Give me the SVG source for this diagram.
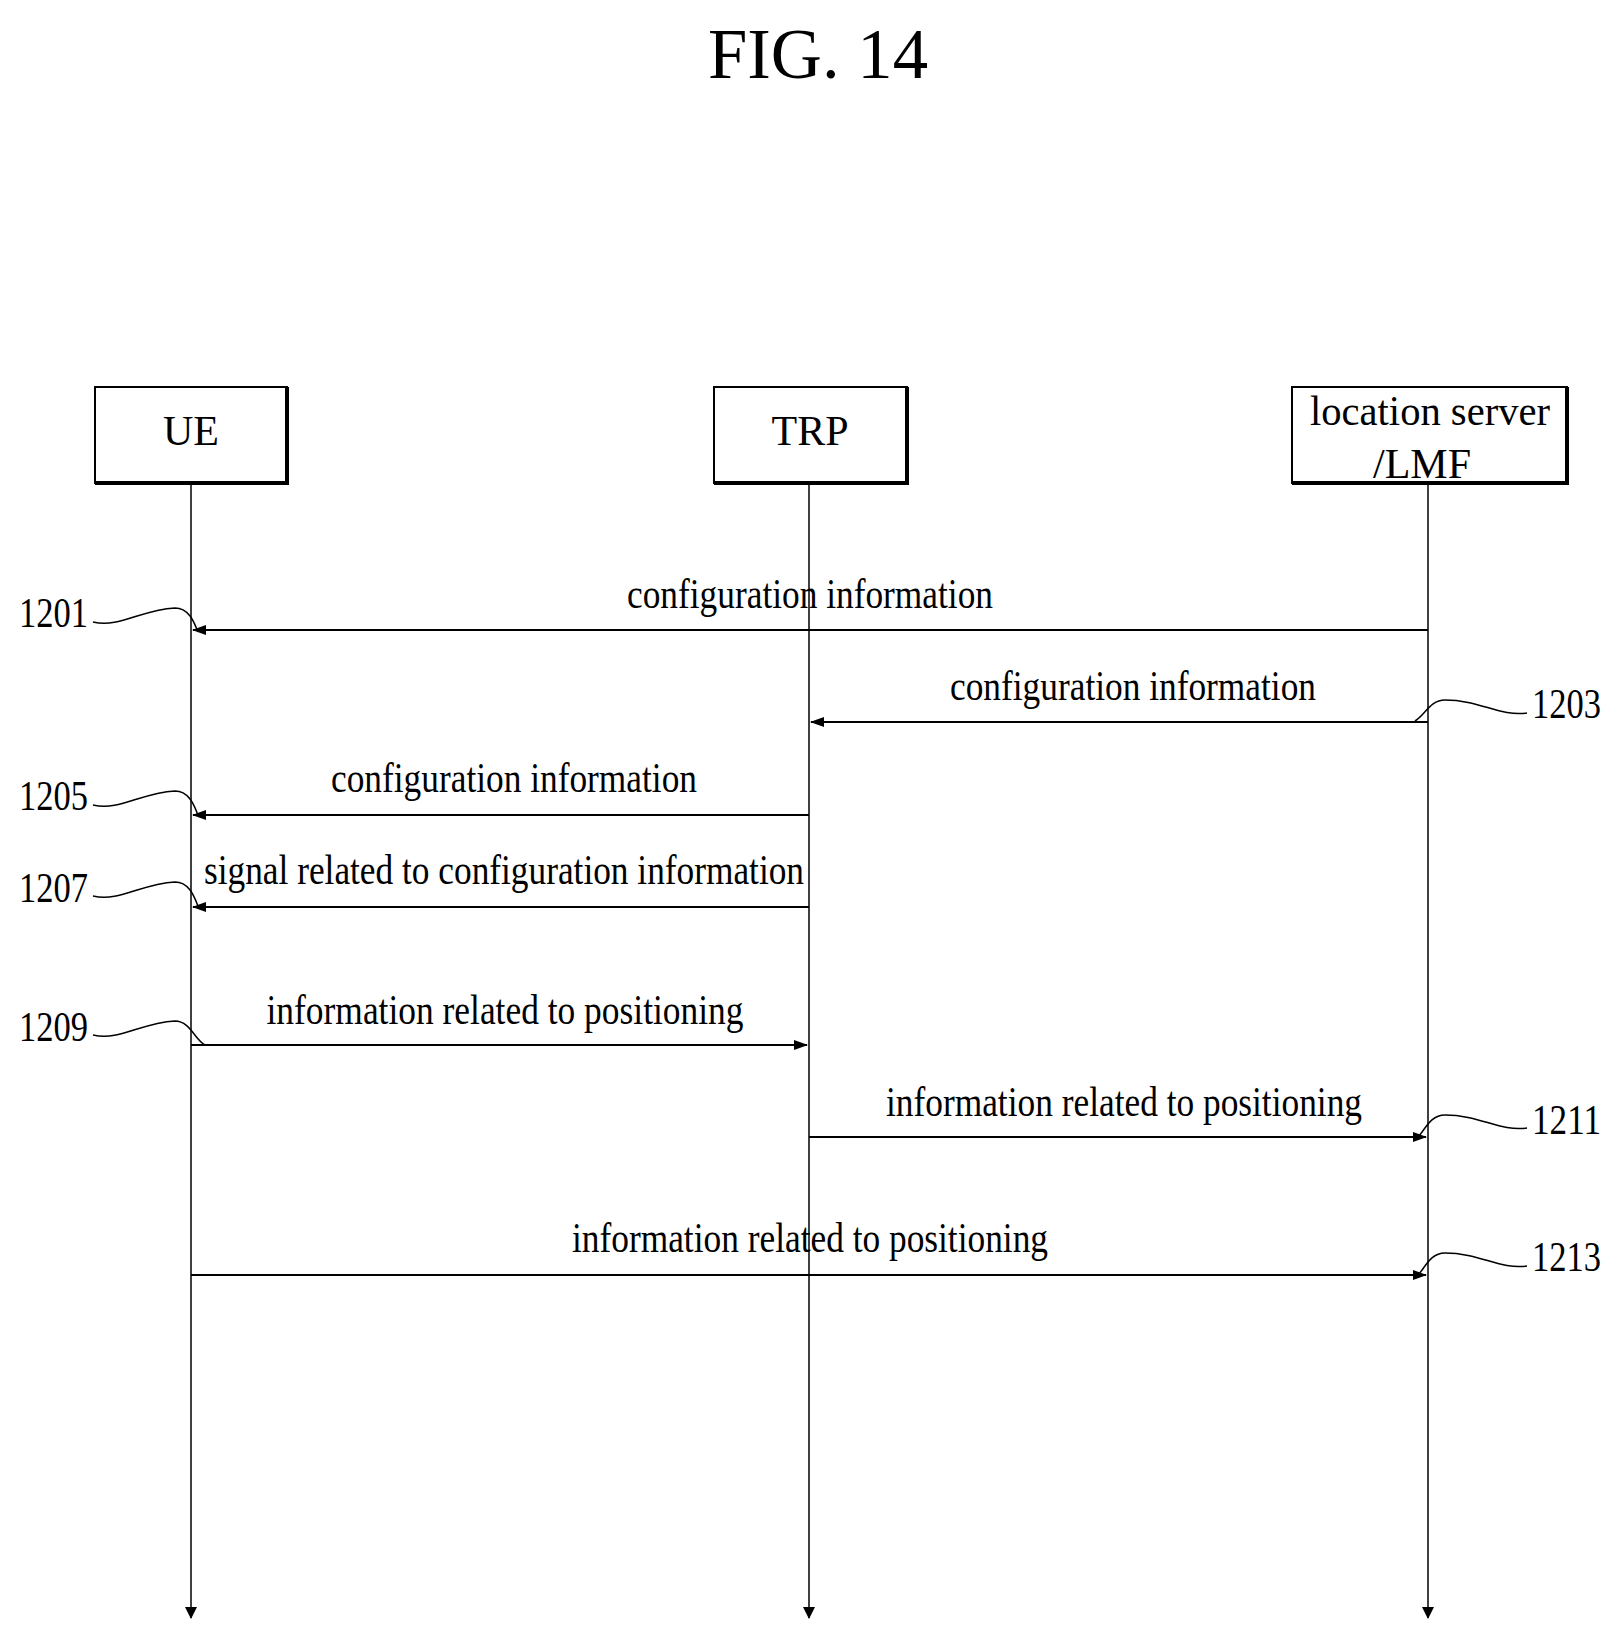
<svg xmlns="http://www.w3.org/2000/svg" width="1620" height="1638" viewBox="0 0 1620 1638">
<style>
text{font-family:"Liberation Serif","Times New Roman",serif;fill:#000}
.t{font-size:42px}
.box{fill:#fff;stroke:#000;stroke-width:2}
.sh{fill:none;stroke:#000;stroke-width:4}
.ll{stroke:#000;stroke-width:1.5;fill:none}
.m{stroke:#000;stroke-width:1.8;fill:none;marker-end:url(#ah)}
.sq{stroke:#000;stroke-width:1.5;fill:none}
</style>
<defs>
<marker id="ah" markerWidth="14" markerHeight="10" refX="13" refY="5" orient="auto" markerUnits="userSpaceOnUse">
<path d="M0,0 L14,5 L0,10 Z" fill="#000"/>
</marker>
<marker id="la" markerWidth="12" markerHeight="22" refX="11" refY="6" orient="auto" markerUnits="userSpaceOnUse">
<path d="M0,0 L12,6 L0,12 Z" fill="#000"/>
</marker>
</defs>
<text x="818" y="78" font-size="72" text-anchor="middle" textLength="220" lengthAdjust="spacingAndGlyphs">FIG. 14</text>
<g id="ue"><rect class="box" x="95" y="387" width="192" height="96"/><path class="sh" d="M287,387 V483 H95"/><text class="t" x="191" y="445" text-anchor="middle">UE</text></g>
<g id="trp"><rect class="box" x="714" y="387" width="193" height="96"/><path class="sh" d="M907,387 V483 H714"/><text class="t" x="810" y="445" text-anchor="middle">TRP</text></g>
<g id="lmf"><rect class="box" x="1292" y="387" width="275" height="96"/><path class="sh" d="M1567,387 V483 H1292"/><text class="t" x="1430" y="425" text-anchor="middle" textLength="240" lengthAdjust="spacingAndGlyphs">location server</text><text class="t" x="1422" y="478" text-anchor="middle">/LMF</text></g>
<g id="connectors">
<line class="ll" x1="191" y1="485" x2="191" y2="1618" marker-end="url(#la)"/>
<line class="ll" x1="809" y1="485" x2="809" y2="1618" marker-end="url(#la)"/>
<line class="ll" x1="1428" y1="485" x2="1428" y2="1618" marker-end="url(#la)"/>
<line class="m" x1="1428" y1="630" x2="193" y2="630"/>
<line class="m" x1="1428" y1="722" x2="811" y2="722"/>
<line class="m" x1="809" y1="815" x2="193" y2="815"/>
<line class="m" x1="809" y1="907" x2="193" y2="907"/>
<line class="m" x1="191" y1="1045" x2="807" y2="1045"/>
<line class="m" x1="809" y1="1137" x2="1426" y2="1137"/>
<line class="m" x1="191" y1="1275" x2="1426" y2="1275"/>
<path class="sq" d="M93,622 C120,628 140,610 175,608 C190,608 195,625 198,632"/>
<path class="sq" d="M93,805 C120,811 140,793 175,791 C190,791 195,808 198,815"/>
<path class="sq" d="M93,896 C120,902 140,884 175,882 C190,882 195,899 198,906"/>
<path class="sq" d="M93,1035 C120,1041 140,1023 175,1021 C190,1021 195,1040 205,1045"/>
<path class="sq" d="M1527,713 C1500,717 1480,700 1445,700 C1430,700 1425,715 1415,721"/>
<path class="sq" d="M1527,1128 C1500,1132 1480,1115 1445,1115 C1430,1115 1425,1130 1418,1137"/>
<path class="sq" d="M1527,1266 C1500,1270 1480,1253 1445,1253 C1430,1253 1425,1268 1418,1275"/>
</g>
<g id="labels" class="t">
<text class="t" x="810" y="608" text-anchor="middle" textLength="366" lengthAdjust="spacingAndGlyphs">configuration information</text>
<text class="t" x="1133" y="700" text-anchor="middle" textLength="366" lengthAdjust="spacingAndGlyphs">configuration information</text>
<text class="t" x="514" y="792" text-anchor="middle" textLength="366" lengthAdjust="spacingAndGlyphs">configuration information</text>
<text class="t" x="504" y="884" text-anchor="middle" textLength="600" lengthAdjust="spacingAndGlyphs">signal related to configuration information</text>
<text class="t" x="505" y="1024" text-anchor="middle" textLength="477" lengthAdjust="spacingAndGlyphs">information related to positioning</text>
<text class="t" x="1124" y="1116" text-anchor="middle" textLength="476" lengthAdjust="spacingAndGlyphs">information related to positioning</text>
<text class="t" x="810" y="1252" text-anchor="middle" textLength="476" lengthAdjust="spacingAndGlyphs">information related to positioning</text>
<text class="t" x="19" y="627" textLength="69" lengthAdjust="spacingAndGlyphs">1201</text>
<text class="t" x="19" y="810" textLength="69" lengthAdjust="spacingAndGlyphs">1205</text>
<text class="t" x="19" y="902" textLength="69" lengthAdjust="spacingAndGlyphs">1207</text>
<text class="t" x="19" y="1041" textLength="69" lengthAdjust="spacingAndGlyphs">1209</text>
<text class="t" x="1532" y="718" textLength="69" lengthAdjust="spacingAndGlyphs">1203</text>
<text class="t" x="1532" y="1134" textLength="69" lengthAdjust="spacingAndGlyphs">1211</text>
<text class="t" x="1532" y="1271" textLength="69" lengthAdjust="spacingAndGlyphs">1213</text>
</g>
</svg>
